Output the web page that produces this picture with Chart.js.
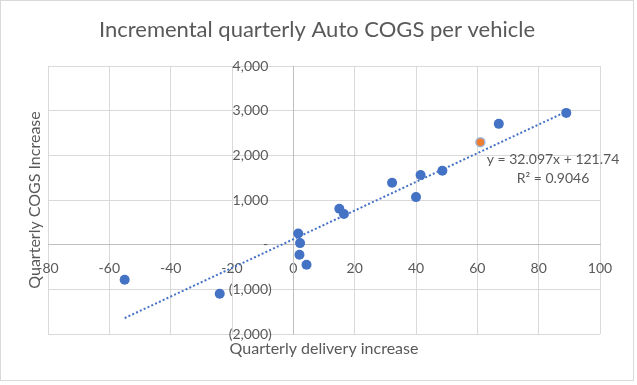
<!DOCTYPE html>
<html>
<head>
<meta charset="utf-8">
<script src="https://cdn.jsdelivr.net/npm/chart.js@4"></script>
<style>
  html, body { margin: 0; padding: 0; background: #fff; }
  #wrap { width: 637px; height: 385px; position: relative; }
</style>
</head>
<body>
<div id="wrap"><canvas id="chart"></canvas></div>
<script>
// quarterly delivery increase (x) vs quarterly COGS increase (y)
const deliveryIncrease = [-55, -24, 1.6, 2.2, 2.0, 4.3, 15, 16.5, 32.2, 40, 41.5, 48.6, 67, 89];
const cogsIncrease     = [-785, -1100, 250, 35, -225, -450, 805, 685, 1385, 1065, 1560, 1655, 2705, 2950];
const highlightX = [61];
const highlightY = [2295];

const xTicks = [-80, -60, -40, -20, 0, 20, 40, 60, 80, 100];
const yTicks = [-2000, -1000, 0, 1000, 2000, 3000, 4000];

// Excel linear trendline, as printed on the chart
const trendSlope = 32.097;
const trendIntercept = 121.74;
const trendLabel = ["y = 32.097x + 121.74", "R\u00b2 = 0.9046"];

const titleText = "Incremental quarterly Auto COGS per vehicle";
const xTitle = "Quarterly delivery increase";
const yTitle = "Quarterly COGS Increase";

const FONT = "Lato, 'Open Sans', sans-serif";
const TEXT = "#595959";

const xMin = Math.min(...deliveryIncrease), xMax = Math.max(...deliveryIncrease);
const trendPoints = [xMin, xMax].map(x => ({ x: x, y: trendSlope * x + trendIntercept }));

// accounting style: (1,000) for negatives, "-" for zero; trailing spaces keep a gap to the axis
function fmtNum(v) {
  if (v === 0) return "-" + " ".repeat(7);
  const s = Math.abs(v).toLocaleString("en-US");
  return v < 0 ? "(" + s + ")" + " ".repeat(6) : s + " ".repeat(7);
}

const textPlugin = {
  id: "texts",
  afterDraw(chart) {
    const c = chart.ctx;
    const a = chart.chartArea;
    c.save();
    c.fillStyle = TEXT;
    c.textAlign = "center";
    c.textBaseline = "middle";

    c.font = "22px " + FONT;
    c.fillText(titleText, 317, 30);

    c.font = "16px " + FONT;
    c.fillText(xTitle, (a.left + a.right) / 2, 349);
    c.save();
    c.translate(35, (a.top + a.bottom) / 2);
    c.rotate(-Math.PI / 2);
    c.fillText(yTitle, 0, 0);
    c.restore();

    c.font = "14px " + FONT;
    c.fillText(trendLabel[0], 553, 159);
    c.fillText(trendLabel[1], 553, 178);

    // outer frame
    c.strokeStyle = "#d9d9d9";
    c.lineWidth = 1;
    c.strokeRect(0.5, 0.5, 633, 380);
    c.restore();
  }
};

new Chart(document.getElementById("chart"), {
  type: "scatter",
  data: {
    datasets: [
      {
        label: "Trend",
        type: "line",
        data: trendPoints,
        borderColor: "#4472c4",
        borderWidth: 2,
        borderDash: [2, 2.2],
        pointRadius: 0,
        fill: false,
        order: 2
      },
      {
        label: "Quarters",
        data: deliveryIncrease.map((x, i) => ({ x: x, y: cogsIncrease[i] })),
        backgroundColor: "#4472c4",
        borderColor: "#4472c4",
        pointRadius: 5,
        pointBorderWidth: 0,
        order: 1
      },
      {
        label: "Latest",
        data: highlightX.map((x, i) => ({ x: x, y: highlightY[i] })),
        backgroundColor: "#ed7d31",
        borderColor: "#9fb6de",
        pointRadius: 4.5,
        pointBorderWidth: 1.5,
        order: 0
      }
    ]
  },
  options: {
    responsive: true,
    maintainAspectRatio: false,
    animation: false,
    layout: { padding: { left: 48, top: 66, right: 37, bottom: 51 } },
    plugins: {
      legend: { display: false },
      tooltip: { enabled: false }
    },
    scales: {
      x: {
        type: "linear",
        position: { y: 0 },
        min: -80, max: 100,
        afterBuildTicks: s => { s.ticks = xTicks.map(v => ({ value: v })); },
        afterFit: s => { s.height = 0; },
        grid: { color: "#d9d9d9", drawTicks: true, tickLength: 12, tickColor: "rgba(0,0,0,0)" },
        border: { color: "#bfbfbf" },
        ticks: { color: TEXT, font: { family: FONT, size: 14 }, maxRotation: 0, autoSkip: false }
      },
      y: {
        type: "linear",
        position: { x: 0 },
        min: -2000, max: 4000,
        afterBuildTicks: s => { s.ticks = yTicks.map(v => ({ value: v })); },
        afterFit: s => { s.width = 0; },
        grid: { color: "#d9d9d9", drawTicks: false },
        border: { color: "#bfbfbf" },
        ticks: { color: TEXT, font: { family: FONT, size: 14 }, autoSkip: false, callback: v => fmtNum(v) }
      }
    }
  },
  plugins: [textPlugin]
});
</script>
</body>
</html>
